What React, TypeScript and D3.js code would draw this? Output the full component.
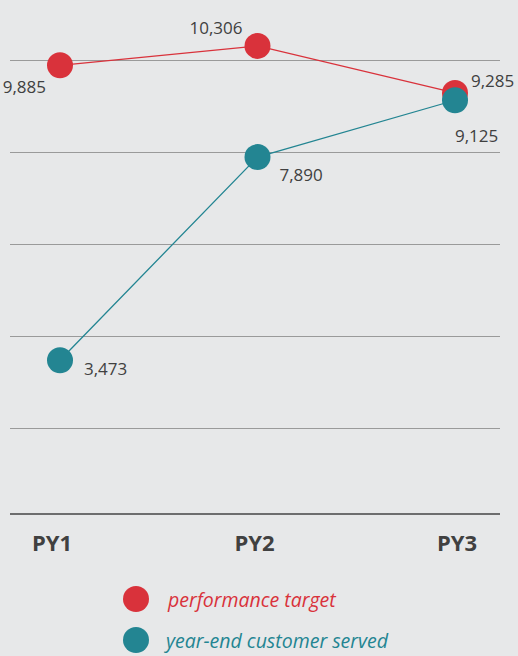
/* eslint-disable */
import React, { useEffect, useRef } from 'react';
import * as d3 from 'd3';

const years = ['PY1', 'PY2', 'PY3'];
const targetValues = [9885, 10306, 9285];
const servedValues = [3473, 7890, 9125];
const gridTicks = [2000, 4000, 6000, 8000, 10000];
const seriesNames = ['performance target', 'year-end customer served'];

// label offsets relative to each point: [dx, dy, anchor]
const targetLabelPos: [number, number, string][] = [
  [-14, 28, 'end'],
  [-15, -12, 'end'],
  [16, -6, 'start'],
];
const servedLabelPos: [number, number, string][] = [
  [24, 15, 'start'],
  [22, 24, 'start'],
  [0, 42, 'start'],
];

const App = () => {
  const ref = useRef<SVGSVGElement>(null);

  useEffect(() => {
    if (!ref.current) return;
    const svg = d3.select(ref.current);
    svg.selectAll('*').remove();

    const width = 518;
    const height = 656;
    const red = '#d9323b';
    const teal = '#238592';
    const textColor = '#404040';
    const font = "'Open Sans', sans-serif";

    svg.attr('width', width).attr('height', height);

    svg.append('rect').attr('width', width).attr('height', height).attr('fill', '#e7e8e9');

    const plot = { left: 10, right: 500, bottom: 514 };

    // ------- Scales -------
    const x = d3.scalePoint<string>().domain(years).range([60, 455]);
    const xLabel = x.copy().range([52, 457]);
    const y = d3.scaleLinear().domain([0, 10000]).range([520, 60]);

    // ------- Grid -------
    svg
      .append('g')
      .selectAll('line')
      .data(gridTicks)
      .enter()
      .append('line')
      .attr('x1', plot.left)
      .attr('x2', plot.right)
      .attr('y1', (d) => Math.round(y(d)) + 0.5)
      .attr('y2', (d) => Math.round(y(d)) + 0.5)
      .attr('stroke', '#9a9a9a')
      .attr('stroke-width', 1);

    svg
      .append('line')
      .attr('x1', plot.left)
      .attr('x2', plot.right)
      .attr('y1', plot.bottom)
      .attr('y2', plot.bottom)
      .attr('stroke', '#444')
      .attr('stroke-width', 1.5);

    // ------- Category labels -------
    svg
      .append('g')
      .selectAll('text')
      .data(years)
      .enter()
      .append('text')
      .attr('x', (d) => xLabel(d)!)
      .attr('y', 551)
      .attr('text-anchor', 'middle')
      .attr('font-family', font)
      .attr('font-weight', 'bold')
      .attr('font-size', 22)
      .attr('fill', textColor)
      .text((d) => d);

    // ------- Series -------
    const series = [
      { values: targetValues, color: red, labels: targetLabelPos },
      { values: servedValues, color: teal, labels: servedLabelPos },
    ];

    const line = d3
      .line<number>()
      .x((_, i) => x(years[i])!)
      .y((d) => y(d));

    series.forEach((s) => {
      svg
        .append('path')
        .datum(s.values)
        .attr('fill', 'none')
        .attr('stroke', s.color)
        .attr('stroke-width', 1.3)
        .attr('d', line);

      svg
        .append('g')
        .selectAll('circle')
        .data(s.values)
        .enter()
        .append('circle')
        .attr('cx', (_, i) => x(years[i])!)
        .attr('cy', (d) => y(d))
        .attr('r', 13)
        .attr('fill', s.color);
    });

    series.forEach((s) => {
      svg
        .append('g')
        .selectAll('text')
        .data(s.values)
        .enter()
        .append('text')
        .attr('x', (_, i) => x(years[i])! + s.labels[i][0])
        .attr('y', (d, i) => y(d) + s.labels[i][1])
        .attr('text-anchor', (_, i) => s.labels[i][2])
        .attr('font-family', font)
        .attr('font-size', 17)
        .attr('fill', textColor)
        .text((d) => d3.format(',')(d));
    });

    // ------- Legend -------
    const legend = svg
      .append('g')
      .selectAll('g')
      .data(seriesNames)
      .enter()
      .append('g')
      .attr('transform', (_, i) => `translate(136, ${599 + i * 41})`);

    legend
      .append('circle')
      .attr('r', 13)
      .attr('fill', (_, i) => (i === 0 ? red : teal));

    legend
      .append('text')
      .attr('x', (_, i) => (i === 0 ? 32 : 30))
      .attr('y', 8)
      .attr('font-family', font)
      .attr('font-style', 'italic')
      .attr('font-size', 19.5)
      .attr('fill', (_, i) => (i === 0 ? red : teal))
      .text((d) => d);
  }, []);

  return <svg ref={ref} style={{ position: 'absolute', left: 0, top: 0, display: 'block' }} />;
};

export default App;
